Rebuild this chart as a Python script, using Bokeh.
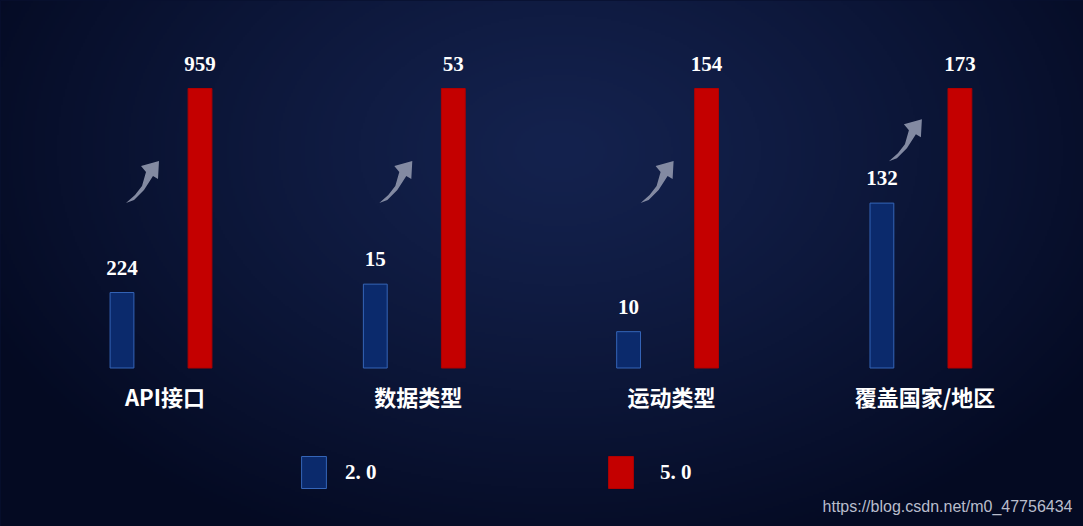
import numpy as np
from bokeh.plotting import figure
from bokeh.models import ColumnDataSource, Label, Legend, LegendItem, Range1d
from bokeh.core.properties import value
from bokeh.embed import file_html
from bokeh.resources import INLINE

# ---- data ----
categories = ["API接口", "数据类型", "运动类型", "覆盖国家/地区"]
series_names = ["2. 0", "5. 0"]
values_v2 = [224, 15, 10, 132]
values_v5 = [959, 53, 154, 173]
# displayed bar level (percent of the tallest bar of each group)
level_v2 = [27, 30, 13, 59]
level_v5 = [100, 100, 100, 100]

# ---- layout ----
W, H = 1083, 526
X_PX = 253.3      # pixels per group
Y_PX = 2.795      # pixels per level unit
x0_px = 160.5     # first group centre (px from left)
base_px = 158.5   # baseline (px from bottom)
xr = Range1d(-x0_px / X_PX, (W - x0_px) / X_PX)
yr = Range1d(-base_px / Y_PX, (H - base_px) / Y_PX)

p = figure(width=W, height=H, x_range=xr, y_range=yr, output_backend="svg",
           toolbar_location=None, x_axis_location=None, y_axis_location=None,
           min_border=0)
p.grid.visible = False
p.outline_line_color = None
p.background_fill_color = "#0a1434"
p.border_fill_color = "#0a1434"

# background gradient (decoration)
hw, hh = (W + 1) // 2, H // 2
xs = (np.arange(hw) + 0.5) * 2
ys = (np.arange(hh) + 0.5) * 2
X, Y = np.meshgrid(xs, ys)
d = np.sqrt(((X - 560) / 640) ** 2 + ((Y - 150) / 430) ** 2)
t = np.clip(d, 0, 1) ** 1.2
c_in = np.array([20, 34, 78], dtype=float)
c_out = np.array([4, 10, 34], dtype=float)
rgb = c_in * (1 - t)[..., None] + c_out * t[..., None]
img = np.zeros((hh, hw), dtype=np.uint32)
view = img.view(dtype=np.uint8).reshape((hh, hw, 4))
view[..., 0:3] = rgb.astype(np.uint8)
view[..., 3] = 255
img = np.ascontiguousarray(img[::-1])
p.image_rgba(image=[img], x=xr.start, y=yr.start,
             dw=xr.end - xr.start, dh=yr.end - yr.start)

gx = np.arange(len(categories))
OFF = 0.154
BW = 0.094

src2 = ColumnDataSource(dict(x=gx - OFF, top=level_v2, label=[str(v) for v in values_v2]))
src5 = ColumnDataSource(dict(x=gx + OFF, top=level_v5, label=[str(v) for v in values_v5]))

r2 = p.vbar(x="x", top="top", bottom=0, width=BW, source=src2,
            fill_color="#0b2a6c", line_color="#3565b8", line_width=1)
r5 = p.vbar(x="x", top="top", bottom=0, width=BW, source=src5,
            fill_color="#c40000", line_color="#b00000", line_width=1)

for src in (src2, src5):
    p.text(x="x", y="top", text="label", source=src, text_align="center",
           text_baseline="alphabetic", y_offset=-25,
           text_font=value("Liberation Serif"), text_font_style="bold",
           text_font_size="21px", text_color="white")

p.text(x=gx, y=[0] * len(categories), text=categories, x_offset=4, y_offset=28,
       text_align="center", text_baseline="middle",
       text_font=value("Noto Sans CJK SC"), text_font_style="bold",
       text_font_size="22px", text_color="white")

# decorative arrows between the bars
arrow_shape = [(0, 0), (9, 8), (16, 17), (20, 31), (15, 37), (33, 42),
               (32, 24), (27, 27), (18, 13), (8, 3)]
tail_dx = [-35, -35, -27, -32]
axs, ays = [], []
for i in range(len(categories)):
    ty = max(59, level_v2[i] + 15)
    axs.append([gx[i] + (tail_dx[i] + sx) / X_PX for sx, sy in arrow_shape])
    ays.append([ty + sy / Y_PX for sx, sy in arrow_shape])
p.patches(xs=axs, ys=ays, fill_color="#8a90a8", fill_alpha=0.95, line_color=None)

legend_style = dict(orientation="horizontal", padding=0, margin=0,
                    glyph_width=31, glyph_height=40, label_height=40,
                    label_text_font="Liberation Serif", label_text_font_style="bold",
                    label_text_font_size="21px", label_text_color="white",
                    label_text_baseline="middle", border_line_color=None,
                    background_fill_alpha=0)
legend1 = Legend(items=[LegendItem(label=series_names[0], renderers=[r2])],
                 location=(298, 34), label_standoff=16, **legend_style)
legend2 = Legend(items=[LegendItem(label=series_names[1], renderers=[r5])],
                 location=(605, 34), label_standoff=24, **legend_style)
p.add_layout(legend1)
p.add_layout(legend2)

p.add_layout(Label(x=1072, y=20, x_units="screen", y_units="screen",
                   text="https://blog.csdn.net/m0_47756434", text_align="right",
                   text_baseline="middle", text_font="Liberation Sans",
                   text_font_size="16px", text_color="#b9bdcc"))

html = file_html(p, INLINE)
html = html.replace("</head>", "<style>body{background:#060d2b;}</style></head>", 1)
open("out.html", "w").write(html)
